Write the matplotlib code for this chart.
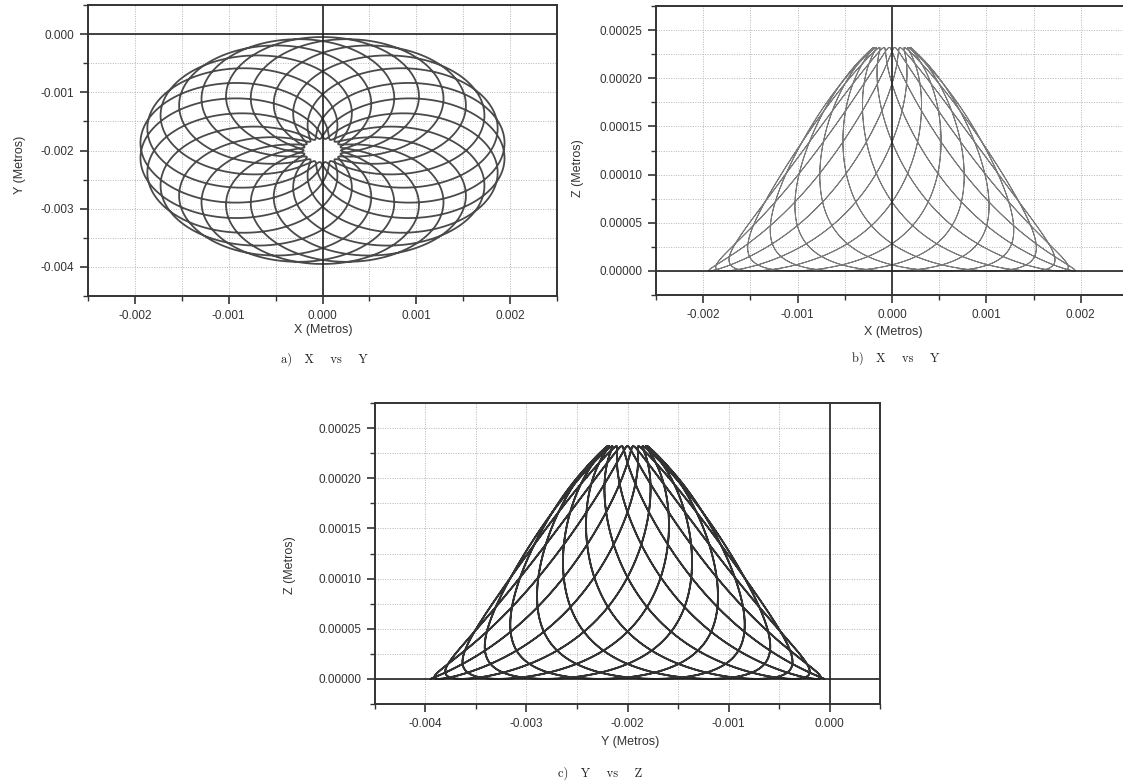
import numpy as np
import matplotlib
matplotlib.use("Agg")
import matplotlib.pyplot as plt
from matplotlib.ticker import MultipleLocator, FormatStrFormatter

# ---- values ----
CENTER_XY = [0.0, -0.002]          # centre of the rosette (X, Y)
R_RANGE = [0.0002, 0.00195]        # closest / farthest distance from the centre
Z_TOP = 0.000232                   # height reached at the closest distance
N_LOOPS = 22                       # number of loops in the rosette
LOOP_STEP_DEG = [212.727]          # azimuth swept from one loop tip to the next
START_DEG = [0.0]                  # azimuth where the first loop starts
TURN_ROUNDNESS = [0.4]             # roundness of the turn near the centre
Z_LINEAR_SHARE = [0.65]            # shape of the Z profile (straight vs rounded)

X_TICKS = [-0.002, -0.001, 0.000, 0.001, 0.002]
Y_TICKS_A = [0.000, -0.001, -0.002, -0.003, -0.004]
Z_TICKS = [0.00000, 0.00005, 0.00010, 0.00015, 0.00020, 0.00025]
YC_TICKS = [-0.004, -0.003, -0.002, -0.001, 0.000]

# ---- trajectory: round loops beside the centre, turning around it ----
rmin, rmax = R_RANGE
step = np.deg2rad(LOOP_STEP_DEG[0])
theta = np.linspace(0, N_LOOPS * step, 80000)
psi = np.pi * theta / step
e = TURN_ROUNDNESS[0]
s = (np.sqrt(np.sin(psi) ** 2 + e ** 2) - e) / (np.sqrt(1 + e ** 2) - e)
r = rmin + (rmax - rmin) * s
ang = theta + np.deg2rad(START_DEG[0])
X = CENTER_XY[0] + r * np.cos(ang)
Y = CENTER_XY[1] + r * np.sin(ang)
u = np.clip((r - rmin) / (rmax - rmin), 0, 1)
k = Z_LINEAR_SHARE[0]
Z = Z_TOP * (k * (1 - u) + (1 - k) * (1 + np.cos(np.pi * u)) / 2)

W, H = 1123, 782
fig = plt.figure(figsize=(W / 100, H / 100), dpi=100)
plt.rcParams['font.family'] = ['Liberation Sans', 'DejaVu Sans']


def px_axes(l, t, r_, b_):
    return fig.add_axes([l / W, 1 - b_ / H, (r_ - l) / W, (b_ - t) / H])


def style(ax, xticks, yticks, xfmt, yfmt):
    xs = abs(xticks[1] - xticks[0])
    ys = abs(yticks[1] - yticks[0])
    ax.xaxis.set_major_locator(MultipleLocator(xs))
    ax.xaxis.set_minor_locator(MultipleLocator(xs / 2))
    ax.yaxis.set_major_locator(MultipleLocator(ys))
    ax.yaxis.set_minor_locator(MultipleLocator(ys / 2))
    ax.xaxis.set_major_formatter(FormatStrFormatter(xfmt))
    ax.yaxis.set_major_formatter(FormatStrFormatter(yfmt))
    ax.grid(True, which='both', color='#b5b5b5', linestyle=(0, (1, 1.5)), linewidth=0.7)
    ax.set_axisbelow(True)
    ax.tick_params(which='major', direction='out', length=6, width=1.2, colors='#333333',
                   labelsize=8.5, labelcolor='#333333', pad=4)
    ax.tick_params(which='minor', direction='out', length=3.5, width=1.0, colors='#333333')
    for sp in ax.spines.values():
        sp.set_color('#333333')
        sp.set_linewidth(1.4)


# Panel a: X vs Y
ax1 = px_axes(88, 5, 557, 296)
ax1.plot(X, Y, color='#4a4a4a', lw=1.3)
ax1.axhline(0, color='#222222', lw=1.2)
ax1.axvline(0, color='#222222', lw=1.2)
ax1.set_xlim(-0.0025, 0.0025)
ax1.set_ylim(-0.0045, 0.0005)
style(ax1, X_TICKS, Y_TICKS_A, '%.3f', '%.3f')

# Panel b: X vs Z
ax2 = px_axes(656, 6, 1128, 295)
ax2.plot(X, Z, color='#7a7a7a', lw=0.7)
ax2.axhline(0, color='#222222', lw=1.2)
ax2.axvline(0, color='#222222', lw=1.2)
ax2.set_xlim(-0.0025, 0.0025)
ax2.set_ylim(-0.000025, 0.000275)
style(ax2, X_TICKS, Z_TICKS, '%.3f', '%.5f')

# Panel c: Y vs Z
ax3 = px_axes(375, 403, 880, 704)
ax3.plot(Y, Z, color='#333333', lw=1.3)
ax3.axhline(0, color='#222222', lw=1.2)
ax3.axvline(0, color='#222222', lw=1.2)
ax3.set_xlim(-0.0045, 0.0005)
ax3.set_ylim(-0.000025, 0.000275)
style(ax3, YC_TICKS, Z_TICKS, '%.3f', '%.5f')

lab = dict(fontsize=9, color='#333333', ha='center', va='center')
fig.text(323 / W, 1 - 330 / H, 'X (Metros)', **lab)
fig.text(893 / W, 1 - 332 / H, 'X (Metros)', **lab)
fig.text(630 / W, 1 - 742 / H, 'Y (Metros)', **lab)
fig.text(20 / W, 1 - 165 / H, 'Y (Metros)', rotation=90, **lab)
fig.text(578 / W, 1 - 168 / H, 'Z (Metros)', rotation=90, **lab)
fig.text(290 / W, 1 - 565 / H, 'Z (Metros)', rotation=90, **lab)

cap = dict(fontsize=9, color='#222222', ha='center', va='center',
           family=['cmr10', 'DejaVu Serif'])
fig.text(324 / W, 1 - 359 / H, 'a)   X    vs    Y', **cap)
fig.text(896 / W, 1 - 358 / H, 'b)   X    vs    Y', **cap)
fig.text(600 / W, 1 - 773 / H, 'c)   Y    vs    Z', **cap)

fig.savefig('out.png', dpi=100)
